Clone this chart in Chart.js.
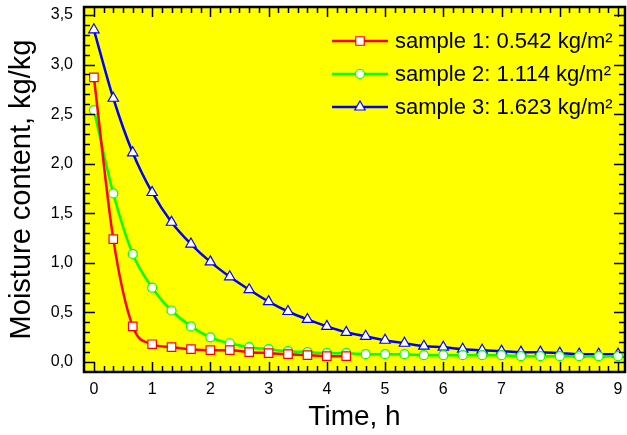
<!DOCTYPE html>
<html>
<head>
<meta charset="utf-8">
<script src="https://cdn.jsdelivr.net/npm/chart.js@4.4.1/dist/chart.umd.min.js"></script>
<style>
  html, body { margin: 0; padding: 0; background: #fff; }
  #wrap { width: 627px; height: 435px; }
</style>
</head>
<body>
<div id="wrap"><canvas id="graficoSecado" width="627" height="435"></canvas></div>
<script>
// tiempos de medición (h), cada 20 min
const tiempo = [0, 0.333, 0.667, 1, 1.333, 1.667, 2, 2.333, 2.667, 3, 3.333, 3.667, 4, 4.333,
    4.667, 5, 5.333, 5.667, 6, 6.333, 6.667, 7, 7.333, 7.667, 8, 8.333, 8.667, 9];

// humedad (kg/kg)
const muestra1 = [2.87, 1.24, 0.36, 0.18, 0.15, 0.13, 0.12, 0.12, 0.10, 0.09, 0.08, 0.07, 0.06, 0.06];
const muestra2 = [2.54, 1.70, 1.09, 0.75, 0.52, 0.36, 0.25, 0.19, 0.15, 0.13, 0.11, 0.10, 0.09, 0.09,
    0.08, 0.08, 0.08, 0.07, 0.07, 0.07, 0.07, 0.07, 0.06, 0.06, 0.06, 0.06, 0.06, 0.06];
const muestra3 = [3.35, 2.66, 2.11, 1.71, 1.41, 1.19, 1.01, 0.86, 0.73, 0.61, 0.51, 0.43, 0.36, 0.30,
    0.26, 0.22, 0.19, 0.16, 0.15, 0.13, 0.12, 0.11, 0.10, 0.10, 0.09, 0.08, 0.08, 0.08];

const etiquetas = ['sample 1: 0.542 kg/m\u00B2', 'sample 2: 1.114 kg/m\u00B2', 'sample 3: 1.623 kg/m\u00B2'];
const ticksX = [0, 1, 2, 3, 4, 5, 6, 7, 8, 9];
const ticksY = [0, 0.5, 1, 1.5, 2, 2.5, 3, 3.5];

const fuente = '"Liberation Sans", Arial, sans-serif';

const puntos = (ys) => ys.map((y, i) => ({ x: tiempo[i], y: y }));

const serie = (label, datos, color, estilo, radio) => ({
    label: label,
    data: puntos(datos),
    borderColor: color,
    backgroundColor: color,
    borderWidth: 2.5,
    pointStyle: estilo,
    pointRadius: radio,
    pointHoverRadius: radio,
    pointBackgroundColor: '#ffffff',
    pointBorderColor: color,
    pointBorderWidth: 1.2,
    cubicInterpolationMode: 'monotone',
    fill: false
});

// fondo amarillo, marco y ticks hacia adentro
const marco = {
    id: 'marco',
    beforeDraw(chart) {
        const { ctx, chartArea: a } = chart;
        ctx.save();
        ctx.fillStyle = '#ffff00';
        ctx.fillRect(a.left, a.top, a.right - a.left, a.bottom - a.top);
        ctx.restore();
    },
    afterDatasetsDraw(chart) {
        const { ctx, chartArea: a, scales } = chart;
        ctx.save();
        ctx.strokeStyle = '#000';
        ctx.lineWidth = 1.5;
        ctx.beginPath();
        for (let i = 0; i <= 54; i++) {
            const px = Math.round(scales.x.getPixelForValue(i / 6)) + 0.5;
            const l = i % 6 === 0 ? 10 : 6;
            ctx.moveTo(px, a.bottom); ctx.lineTo(px, a.bottom - l);
            ctx.moveTo(px, a.top); ctx.lineTo(px, a.top + l);
        }
        for (let i = 0; i <= 35; i++) {
            const py = Math.round(scales.y.getPixelForValue(i / 10)) + 0.5;
            const l = i % 5 === 0 ? 11 : 6;
            ctx.moveTo(a.left, py); ctx.lineTo(a.left + l, py);
            ctx.moveTo(a.right, py); ctx.lineTo(a.right - l, py);
        }
        ctx.stroke();
        ctx.lineWidth = 2.5;
        ctx.strokeRect(a.left, a.top, a.right - a.left, a.bottom - a.top);
        ctx.restore();
    },
    afterDraw(chart) {
        // leyenda con línea y marcador
        const ctx = chart.ctx;
        ctx.save();
        chart.data.datasets.forEach((ds, i) => {
            const y = 41 + i * 33;
            ctx.strokeStyle = ds.borderColor;
            ctx.lineWidth = 2.5;
            ctx.beginPath();
            ctx.moveTo(332, y); ctx.lineTo(388, y);
            ctx.stroke();
            ctx.fillStyle = '#ffffff';
            ctx.lineWidth = 1.2;
            Chart.helpers.drawPoint(ctx, { pointStyle: ds.pointStyle, radius: ds.pointRadius, borderWidth: 1.2 }, 360, y);
            ctx.fillStyle = '#000';
            ctx.font = '22px ' + fuente;
            ctx.textBaseline = 'middle';
            ctx.textAlign = 'left';
            ctx.fillText(ds.label, 395, y + 1);
        });
        ctx.restore();
    }
};

const cargarGrafico = () => {
    const ctx = document.getElementById('graficoSecado').getContext('2d');
    new Chart(ctx, {
        type: 'line',
        data: {
            datasets: [
                serie(etiquetas[0], muestra1, '#ff0000', 'rect', 6),
                serie(etiquetas[1], muestra2, '#00ff00', 'circle', 4.5),
                serie(etiquetas[2], muestra3, '#0000ff', 'triangle', 6)
            ]
        },
        options: {
            responsive: false,
            animation: false,
            layout: { autoPadding: false, padding: { top: 7, right: 2, left: 0, bottom: 0 } },
            plugins: { legend: { display: false }, tooltip: { enabled: false } },
            scales: {
                x: {
                    type: 'linear',
                    min: -0.17,
                    max: 9.12,
                    afterFit: (s) => { s.height = 63; s.paddingLeft = 0; s.paddingRight = 0; },
                    afterBuildTicks: (s) => { s.ticks = ticksX.map(v => ({ value: v })); },
                    grid: { display: false, drawTicks: false },
                    border: { display: false },
                    ticks: {
                        padding: 8,
                        color: '#000',
                        font: { family: fuente, size: 16 },
                        maxRotation: 0
                    },
                    title: {
                        display: true,
                        text: 'Time, h',
                        color: '#000',
                        padding: { top: 0, bottom: 1 },
                        font: { family: fuente, size: 28 }
                    }
                },
                y: {
                    min: -0.1,
                    max: 3.58,
                    afterFit: (s) => { s.width = 84; s.paddingTop = 0; s.paddingBottom = 0; },
                    afterBuildTicks: (s) => { s.ticks = ticksY.map(v => ({ value: v })); },
                    grid: { display: false, drawTicks: false },
                    border: { display: false },
                    ticks: {
                        padding: 11,
                        color: '#000',
                        font: { family: fuente, size: 16 },
                        callback: (v) => v.toFixed(1).replace('.', ',')
                    },
                    title: {
                        display: true,
                        text: 'Moisture content, kg/kg',
                        color: '#000',
                        padding: { top: 5, bottom: 0 },
                        font: { family: fuente, size: 29 }
                    }
                }
            }
        },
        plugins: [marco]
    });
};

window.addEventListener('DOMContentLoaded', cargarGrafico);
</script>
</body>
</html>
